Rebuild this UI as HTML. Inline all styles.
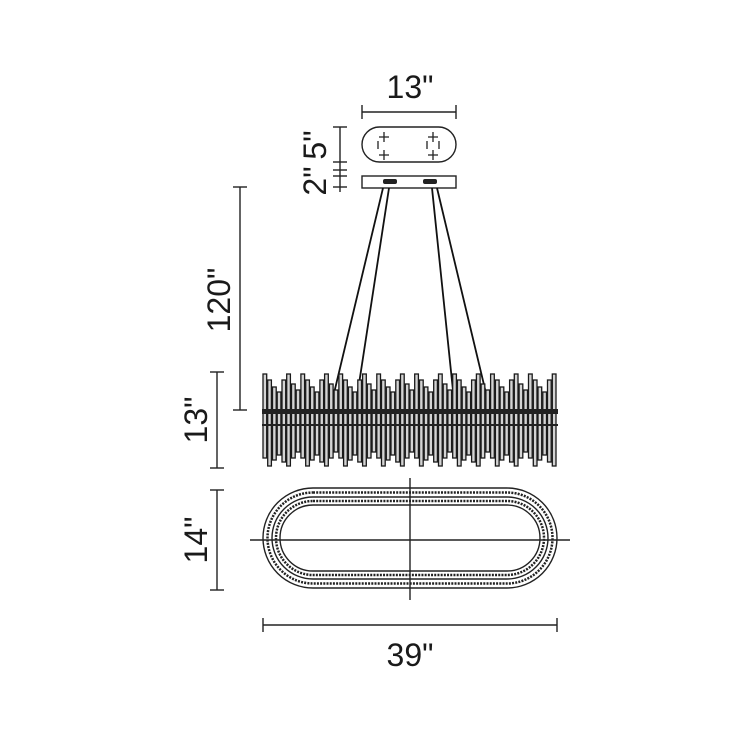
<!DOCTYPE html>
<html><head><style>html,body{margin:0;padding:0;background:#fff}svg{display:block}</style></head>
<body>
<svg id="s" width="740" height="740" viewBox="0 0 740 740" xmlns="http://www.w3.org/2000/svg" font-family="Liberation Sans, sans-serif" fill="none" stroke="#222">
<g stroke-width="1.4">
<line x1="362" y1="112" x2="456" y2="112"/><line x1="362" y1="105" x2="362" y2="119"/><line x1="456" y1="105" x2="456" y2="119"/>
<rect x="362" y="127" width="94" height="35" rx="17.5"/>
<rect x="362" y="176" width="94" height="12"/>
<line x1="340" y1="127" x2="340" y2="192"/>
<line x1="333" y1="127" x2="347" y2="127"/><line x1="333" y1="162" x2="347" y2="162"/><line x1="333" y1="170" x2="347" y2="170"/><line x1="333" y1="176" x2="347" y2="176"/><line x1="333" y1="187" x2="347" y2="187"/>
<line x1="240" y1="187" x2="240" y2="410"/><line x1="233" y1="187" x2="247" y2="187"/><line x1="233" y1="410" x2="247" y2="410"/>
<line x1="217" y1="372" x2="217" y2="468"/><line x1="210" y1="372" x2="224" y2="372"/><line x1="210" y1="468" x2="224" y2="468"/>
<line x1="217" y1="490" x2="217" y2="590"/><line x1="210" y1="490" x2="224" y2="490"/><line x1="210" y1="590" x2="224" y2="590"/>
<line x1="263" y1="625" x2="557" y2="625"/><line x1="263" y1="618" x2="263" y2="632"/><line x1="557" y1="618" x2="557" y2="632"/>
<rect x="263" y="488" width="294" height="100" rx="50"/>
<rect x="272" y="497" width="276" height="82" rx="41"/>
<rect x="280" y="505" width="260" height="66" rx="33"/>
<rect x="267.5" y="492.5" width="285" height="91" rx="45.5" stroke-dasharray="2 1.2" stroke-width="2.5"/>
<rect x="276" y="501" width="268" height="74" rx="37" stroke-dasharray="2 1.2" stroke-width="2.5"/>
<line x1="250" y1="540" x2="570" y2="540"/><line x1="410" y1="478" x2="410" y2="600"/>
</g>
<g stroke-width="1.3">
<path d="M384 132v10M379 137h10M384 150v10M379 155h10M378 141v8M433 132v10M428 137h10M433 150v10M428 155h10M427 141v8M439 141v8"/>
</g>
<g fill="#222" stroke="none"><rect x="383" y="179" width="14" height="5" rx="2"/><rect x="423" y="179" width="14" height="5" rx="2"/></g>
<g stroke-width="1.8" stroke="#111"><line x1="383" y1="188" x2="330" y2="410"/><line x1="389" y1="188" x2="355" y2="410"/><line x1="432" y1="188" x2="455" y2="410"/><line x1="437" y1="188" x2="490" y2="410"/></g>
<g id="bars"></g>
<rect x="262" y="409" width="296" height="5" fill="#222" stroke="none"/>
<rect x="262" y="424" width="296" height="2" fill="#222" stroke="none"/>
<g fill="#1a1a1a" stroke="none" font-size="32">
<text x="410" y="98" text-anchor="middle">13"</text>
<text x="410" y="666" text-anchor="middle">39"</text>
<text transform="translate(326,145) rotate(-90)" text-anchor="middle">5"</text>
<text transform="translate(326,181) rotate(-90)" text-anchor="middle">2"</text>
<text transform="translate(230,300) rotate(-90)" text-anchor="middle">120"</text>
<text transform="translate(207,420) rotate(-90)" text-anchor="middle">13"</text>
<text transform="translate(207,540) rotate(-90)" text-anchor="middle">14"</text>
</g>
</svg>
<script>
var g=document.getElementById('bars'),h='';
var n=62,w=294/n;
var tops=[374,380,387,392,380,374,384,390];
var bots=[466,458,452,458,466,460,455,462];
for(var i=0;i<n;i++){
 var x=263+i*w;
 var t=tops[i%8],b=bots[(i+3)%8];
 h+='<rect x="'+x.toFixed(1)+'" y="'+t+'" width="'+(w-1).toFixed(1)+'" height="'+(b-t)+'" fill="#d4d4d4" stroke="#1a1a1a" stroke-width="1.3"/>';
}
g.innerHTML=h;
</script>
</body></html>
